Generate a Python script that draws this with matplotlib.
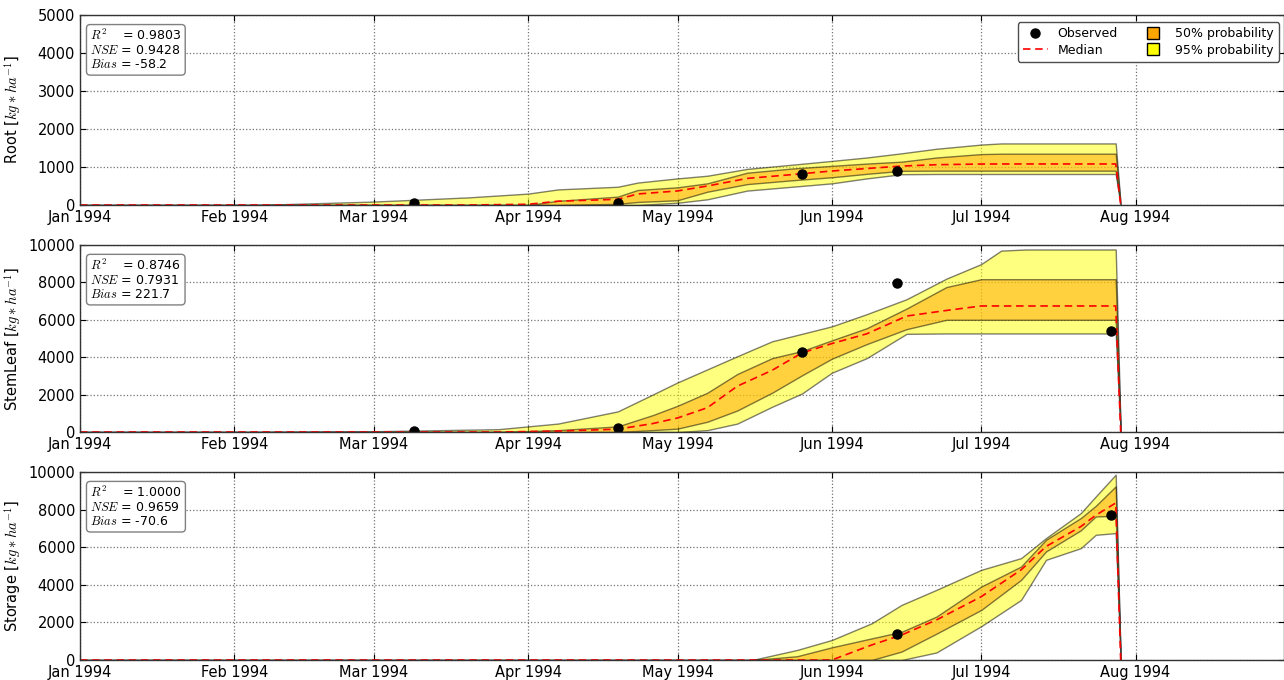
import matplotlib
matplotlib.use("Agg")
import matplotlib.pyplot as plt
import matplotlib.dates as mdates
from matplotlib.lines import Line2D
import numpy as np

plt.rcParams.update({
    "font.family": "DejaVu Sans",
    "font.size": 10.5,
    "mathtext.fontset": "cm",
    "xtick.direction": "in",
    "ytick.direction": "in",
    "xtick.top": True,
    "ytick.right": True,
    "xtick.major.size": 4,
    "ytick.major.size": 4,
    "axes.edgecolor": "0.2",
    "axes.linewidth": 1.0,
})

# --- Root ---
root_dates = ["1994-01-01", "1994-02-05", "1994-03-01", "1994-03-20", "1994-04-01", "1994-04-07",
              "1994-04-19", "1994-04-23", "1994-05-01", "1994-05-07", "1994-05-15", "1994-05-24",
              "1994-06-01", "1994-06-08", "1994-06-15", "1994-06-22", "1994-07-01", "1994-07-05",
              "1994-07-28", "1994-07-29"]
root_q975 = [0, 0, 90, 200, 300, 410, 480, 590, 700, 770, 950, 1060, 1160, 1250, 1360, 1480, 1590, 1620, 1620, 0]
root_q75 = [0, 0, 0, 0, 0, 110, 220, 395, 465, 570, 850, 960, 1030, 1090, 1140, 1250, 1340, 1350, 1350, 0]
root_q50 = [0, 0, 0, 0, 20, 100, 150, 290, 370, 500, 700, 800, 895, 960, 1025, 1060, 1078, 1080, 1080, 0]
root_q25 = [0, 0, 0, 0, 0, 0, 30, 80, 125, 350, 550, 650, 730, 820, 900, 903, 903, 903, 903, 0]
root_q025 = [0, 0, 0, 0, 0, 0, 0, 0, 60, 150, 380, 480, 570, 700, 810, 816, 816, 816, 816, 0]
root_obs_dates = ["1994-03-09", "1994-04-19", "1994-05-26", "1994-06-14"]
root_obs = [40, 60, 815, 895]
root_stats = ("0.9803", "0.9428", "-58.2")

# --- StemLeaf ---
leaf_dates = ["1994-01-01", "1994-02-05", "1994-03-01", "1994-03-26", "1994-04-07", "1994-04-19",
              "1994-04-26", "1994-05-01", "1994-05-07", "1994-05-13", "1994-05-20", "1994-05-26",
              "1994-06-01", "1994-06-08", "1994-06-16", "1994-06-24", "1994-07-01", "1994-07-05",
              "1994-07-10", "1994-07-28", "1994-07-29"]
leaf_q975 = [0, 0, 40, 150, 450, 1100, 2000, 2650, 3350, 4050, 4850, 5250, 5650, 6300, 7100, 8200, 8980, 9700, 9760, 9760, 0]
leaf_q75 = [0, 0, 0, 0, 100, 300, 900, 1400, 2100, 3100, 3950, 4330, 4900, 5550, 6600, 7750, 8170, 8170, 8170, 8170, 0]
leaf_q50 = [0, 0, 0, 0, 50, 150, 450, 750, 1300, 2450, 3300, 4230, 4730, 5250, 6200, 6500, 6740, 6740, 6740, 6740, 0]
leaf_q25 = [0, 0, 0, 0, 0, 0, 100, 180, 550, 1150, 2100, 3030, 3920, 4700, 5500, 6000, 6000, 6000, 6000, 6000, 0]
leaf_q025 = [0, 0, 0, 0, 0, 0, 0, 0, 100, 450, 1350, 2060, 3170, 3950, 5250, 5270, 5270, 5270, 5270, 5270, 0]
leaf_obs_dates = ["1994-03-09", "1994-04-19", "1994-05-26", "1994-06-14", "1994-07-27"]
leaf_obs = [50, 220, 4300, 7980, 5400]
leaf_stats = ("0.8746", "0.7931", "221.7")

# --- Storage ---
stor_dates = ["1994-01-01", "1994-05-16", "1994-05-25", "1994-06-01", "1994-06-09", "1994-06-15",
              "1994-06-22", "1994-07-01", "1994-07-09", "1994-07-14", "1994-07-21", "1994-07-24",
              "1994-07-28", "1994-07-29"]
stor_q975 = [0, 0, 533, 1065, 1954, 2930, 3730, 4795, 5418, 6483, 7815, 8700, 9856, 0]
stor_q75 = [0, 0, 200, 675, 1150, 1500, 2308, 3907, 4973, 6393, 7550, 8200, 9235, 0]
stor_q50 = [0, 0, 0, 0, 800, 1330, 2130, 3370, 4795, 6035, 7100, 7700, 8350, 0]
stor_q25 = [0, 0, 0, 0, 0, 450, 1400, 2664, 4262, 5772, 6900, 7635, 7670, 0]
stor_q025 = [0, 0, 0, 0, 0, 0, 400, 1800, 3197, 5328, 5950, 6660, 6750, 0]
stor_obs_dates = ["1994-06-14", "1994-07-27"]
stor_obs = [1385, 7690]
stor_stats = ("1.0000", "0.9659", "-70.6")


def to_dates(values):
    return np.array(values, dtype="datetime64[D]")


def plot_panel(ax, dates, q025, q25, q50, q75, q975, obs_dates, obs, name, ymax, ystep, stats):
    x = to_dates(dates)
    ax.fill_between(x, q025, q975, facecolor="yellow", edgecolor="k", alpha=0.5, lw=1.0)
    ax.fill_between(x, q25, q75, facecolor="orange", edgecolor="k", alpha=0.5, lw=1.0)
    ax.plot(x, q50, color="red", ls="--", dashes=(4.5, 2.8), lw=1.2)
    ax.plot(to_dates(obs_dates), obs, "o", color="k", ms=6.5)

    # window runs from Jan 1 to just before the end of August
    start = mdates.date2num(np.datetime64("1994-01-01"))
    ax.set_xlim(start, start + 241.8)
    ax.set_ylim(0, ymax)
    ax.set_yticks(np.arange(0, ymax + 1, ystep))
    ax.xaxis.set_major_locator(mdates.MonthLocator())
    ax.xaxis.set_major_formatter(mdates.DateFormatter("%b %Y"))
    ax.grid(True, ls=":", color="0.45", lw=0.9)
    ax.set_axisbelow(True)
    ax.set_ylabel(name + r" [$kg*ha^{-1}$]")
    ax.yaxis.set_label_coords(-0.047, 0.5)

    r2, nse, bias = stats
    txt = (r"$R^2$    = " + r2 + "\n" + r"$NSE$ = " + nse + "\n" + r"$Bias$ = " + bias)
    ax.text(0.0085, 0.93, txt, transform=ax.transAxes, ha="left", va="top", fontsize=9,
            linespacing=1.1,
            bbox=dict(boxstyle="round,pad=0.3", fc="white", ec="0.5", lw=1.0))


fig = plt.figure(figsize=(12.84, 6.8), dpi=100)
W = 1284.0
H = 680.0
left = 80 / W
width = 1204 / W
ax1 = fig.add_axes([left, 1 - 205 / H, width, 190 / H])
ax2 = fig.add_axes([left, 1 - 432 / H, width, 187 / H])
ax3 = fig.add_axes([left, 1 - 660 / H, width, 188 / H])

plot_panel(ax1, root_dates, root_q025, root_q25, root_q50, root_q75, root_q975,
           root_obs_dates, root_obs, "Root", 5000, 1000, root_stats)
plot_panel(ax2, leaf_dates, leaf_q025, leaf_q25, leaf_q50, leaf_q75, leaf_q975,
           leaf_obs_dates, leaf_obs, "StemLeaf", 10000, 2000, leaf_stats)
plot_panel(ax3, stor_dates, stor_q025, stor_q25, stor_q50, stor_q75, stor_q975,
           stor_obs_dates, stor_obs, "Storage", 10000, 2000, stor_stats)

handles = [
    Line2D([], [], ls="", marker="o", color="k", ms=6.5),
    Line2D([], [], ls="--", dashes=(4.5, 2.8), color="red", lw=1.2),
    Line2D([], [], ls="", marker="s", mfc="orange", mec="k", ms=8),
    Line2D([], [], ls="", marker="s", mfc="yellow", mec="k", ms=8),
]
labels = ["Observed", "Median", "50% probability", "95% probability"]
ax1.legend(handles, labels, ncol=2, fontsize=9, loc="upper right",
           bbox_to_anchor=(1279 / W, 1 - 22 / H), bbox_transform=fig.transFigure,
           borderaxespad=0, numpoints=1, handlelength=2.0, columnspacing=1.8,
           fancybox=True, framealpha=1, edgecolor="0.3", borderpad=0.4, labelspacing=0.3)

fig.savefig("out.png", dpi=100)
